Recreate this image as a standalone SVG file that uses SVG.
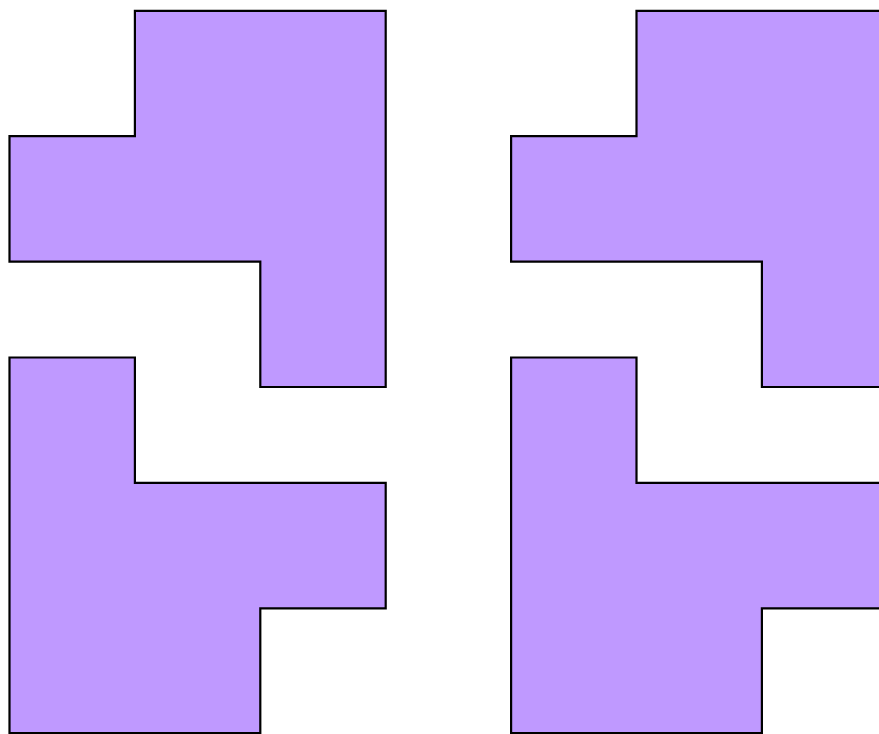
<svg xmlns="http://www.w3.org/2000/svg" width="879" height="734" viewBox="0 0 879 734">
<style>.s{fill:#bf99ff;stroke:#000;stroke-width:2.2;stroke-linejoin:miter}</style>
<rect width="879" height="734" fill="#fff"/>
<g id="tl"><polygon class="s" points="134.9,10.8 385.7,10.8 385.7,387 260.3,387 260.3,261.6 9.5,261.6 9.5,136.2 134.9,136.2"/></g>
<g id="bl"><polygon class="s" points="9.5,357.5 134.9,357.5 134.9,482.9 385.7,482.9 385.7,608.3 260.3,608.3 260.3,733.2 9.5,733.2"/></g>
<g id="tr" transform="translate(501.6,0)"><polygon class="s" points="134.9,10.8 385.7,10.8 385.7,387 260.3,387 260.3,261.6 9.5,261.6 9.5,136.2 134.9,136.2"/></g>
<g id="br" transform="translate(501.6,0)"><polygon class="s" points="9.5,357.5 134.9,357.5 134.9,482.9 385.7,482.9 385.7,608.3 260.3,608.3 260.3,733.2 9.5,733.2"/></g>
</svg>
